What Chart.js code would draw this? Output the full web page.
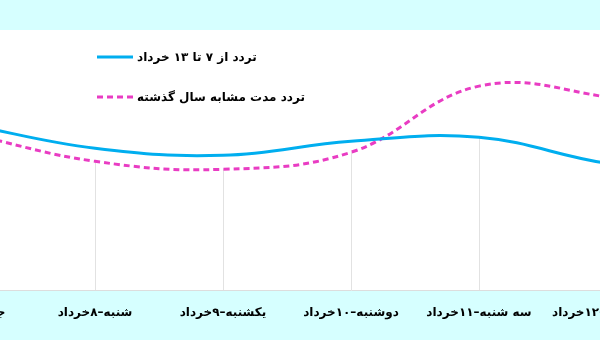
<!DOCTYPE html>
<html>
<head>
<meta charset="utf-8">
<script src="https://cdn.jsdelivr.net/npm/chart.js@4"></script>
<style>
  html, body { margin: 0; padding: 0; background: #d6ffff; overflow: hidden; }
  #wrap { position: absolute; left: -113px; top: 0; width: 928px; height: 340px; }
</style>
</head>
<body>
<div id="wrap"><canvas id="chart"></canvas></div>
<script>
const days = ['جمعه–۷خرداد', 'شنبه–۸خرداد', 'یکشنبه–۹خرداد', 'دوشنبه–۱۰خرداد',
  'سه شنبه–۱۱خرداد', 'چهارشنبه–۱۲خرداد', 'پنجشنبه–۱۳خرداد'];
const thisWeek = [166, 142, 135, 149, 153, 127, 115];
const lastYear = [157, 129, 121, 138, 204, 193, 165];
const seriesNames = ['تردد از ۷ تا ۱۳ خرداد', 'تردد مدت مشابه سال گذشته'];

const FONT = '"DejaVu Sans", Tahoma, sans-serif';

// white plot background
const plotBg = {
  id: 'plotBg',
  beforeDraw(chart) {
    const { ctx, chartArea: a } = chart;
    ctx.save();
    ctx.fillStyle = '#ffffff';
    ctx.fillRect(a.left, a.top, a.right - a.left, a.bottom - a.top);
    ctx.restore();
  }
};

// legend drawn inside the plot, line sample on the left
const innerLegend = {
  id: 'innerLegend',
  afterDraw(chart) {
    const { ctx, chartArea: a } = chart;
    const x0 = a.left + 130;
    chart.data.datasets.forEach((ds, i) => {
      const y = 57 + i * 40;
      ctx.save();
      ctx.strokeStyle = ds.borderColor;
      ctx.lineWidth = ds.borderWidth;
      ctx.setLineDash(ds.borderDash || []);
      ctx.beginPath();
      ctx.moveTo(x0, y);
      ctx.lineTo(x0 + 36, y);
      ctx.stroke();
      ctx.setLineDash([]);
      ctx.fillStyle = '#000';
      ctx.font = 'bold 12px ' + FONT;
      ctx.direction = 'rtl';
      ctx.textAlign = 'left';
      ctx.textBaseline = 'middle';
      ctx.fillText(ds.label, x0 + 40, y + 1);
      ctx.restore();
    });
  }
};

new Chart(document.getElementById('chart'), {
  type: 'line',
  data: {
    labels: days,
    datasets: [{
      label: seriesNames[0],
      data: thisWeek,
      borderColor: '#00aeef',
      borderWidth: 3,
      backgroundColor: '#ffffff',
      fill: 'end',
      tension: 0.4,
      pointRadius: 0
    }, {
      label: seriesNames[1],
      data: lastYear,
      borderColor: '#e93cc3',
      borderWidth: 3,
      borderDash: [6, 4],
      backgroundColor: '#ffffff',
      fill: 'end',
      tension: 0.4,
      pointRadius: 0
    }]
  },
  options: {
    responsive: true,
    maintainAspectRatio: false,
    animation: false,
    layout: { padding: { left: 80, right: 80, top: 30, bottom: 5 } },
    scales: {
      x: {
        grid: { color: '#e2e2e2', drawTicks: false },
        border: { color: '#dddddd' },
        ticks: {
          color: '#000',
          padding: 15,
          autoSkip: false,
          maxRotation: 0,
          font: { family: FONT, size: 12, weight: 'bold' }
        }
      },
      y: { display: false, min: 0, max: 260 }
    },
    plugins: {
      legend: { display: false },
      tooltip: { enabled: false },
      filler: { drawTime: 'beforeDatasetsDraw' }
    }
  },
  plugins: [plotBg, innerLegend]
});
</script>
</body>
</html>
